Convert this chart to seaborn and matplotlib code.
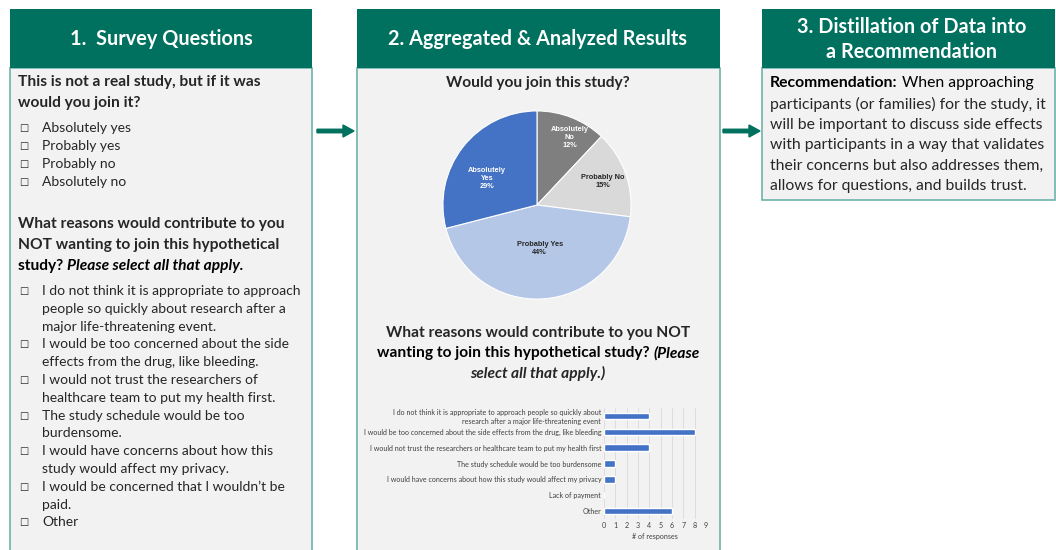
import matplotlib
matplotlib.use("Agg")
import matplotlib.pyplot as plt
import matplotlib.patches as mpatches
import seaborn as sns
import pandas as pd
import numpy as np

# data
join_labels = ["Absolutely\nNo", "Probably No", "Probably Yes", "Absolutely\nYes"]
join_pct = [12, 15, 44, 29]
join_colors = ["#7f7f7f", "#d9d9d9", "#b4c7e7", "#4472c4"]
join_text_colors = ["white", "#262626", "#262626", "white"]

reasons = [
    "I do not think it is appropriate to approach people so quickly about\nresearch after a major life-threatening event",
    "I would be too concerned about the side effects from the drug, like bleeding",
    "I would not trust the researchers or healthcare team to put my health first",
    "The study schedule would be too burdensome",
    "I would have concerns about how this study would affect my privacy",
    "Lack of payment",
    "Other",
]
reason_counts = [4, 8, 4, 1, 1, 0, 6]

q1_options = ["Absolutely yes", "Probably yes", "Probably no", "Absolutely no"]
q2_options = [
    ["I do not think it is appropriate to approach", "people so quickly about research after a", "major life-threatening event."],
    ["I would be too concerned about the side", "effects from the drug, like bleeding."],
    ["I would not trust the researchers of", "healthcare team to put my health first."],
    ["The study schedule would be too", "burdensome."],
    ["I would have concerns about how this", "study would affect my privacy."],
    ["I would be concerned that I wouldn\u2019t be", "paid."],
    ["Other"],
]
rec_lines = [
    "participants (or families) for the study, it",
    "will be important to discuss side effects",
    "with participants in a way that validates",
    "their concerns but also addresses them,",
    "allows for questions, and builds trust.",
]

W, H = 1056, 550
TEAL = "#00715f"
EDGE = "#6fb3a9"
BODY = "#f2f2f2"
FONT = ["Lato", "DejaVu Sans"]

sns.set_style("white")
plt.rcParams["font.family"] = FONT

fig = plt.figure(figsize=(W / 100, H / 100), dpi=100)
ax = fig.add_axes([0, 0, 1, 1])
ax.set_xlim(0, W)
ax.set_ylim(H, 0)
ax.axis("off")
renderer = fig.canvas.get_renderer()


def fr(x0, y0, x1, y1):
    return [x0 / W, 1 - y1 / H, (x1 - x0) / W, (y1 - y0) / H]


def panel(x0, x1, head_bottom, body_bottom):
    ax.add_patch(mpatches.Rectangle((x0, head_bottom), x1 - x0, body_bottom - head_bottom,
                                    facecolor=BODY, edgecolor=EDGE, lw=1.2, zorder=1))
    ax.add_patch(mpatches.Rectangle((x0, 9), x1 - x0, head_bottom - 9,
                                    facecolor=TEAL, edgecolor="none", zorder=2))


def pieces(x, y, parts, size, color="black", ha="left"):
    # parts: list of (text, weight, style)
    widths = []
    objs = []
    for txt, wt, st in parts:
        t = ax.text(0, y, txt, fontsize=size, fontweight=wt, fontstyle=st,
                    color=color, va="center", ha="left", zorder=5)
        widths.append(t.get_window_extent(renderer=renderer).width)
        objs.append(t)
    total = sum(widths)
    cx = x - total / 2 if ha == "center" else x
    for t, w in zip(objs, widths):
        t.set_x(cx)
        cx += w


panel(10, 312, 68, 560)
panel(357, 720, 68, 560)
panel(762, 1055, 68, 200)

# headers
fsh = 14.3
ax.text(161, 39, "1.  Survey Questions", color="white", fontsize=fsh, fontweight="bold",
        ha="center", va="center", zorder=5)
ax.text(538, 39, "2. Aggregated & Analyzed Results", color="white", fontsize=fsh, fontweight="bold",
        ha="center", va="center", zorder=5)
ax.text(912, 27, "3. Distillation of Data into", color="white", fontsize=fsh, fontweight="bold",
        ha="center", va="center", zorder=5)
ax.text(912, 52, "a Recommendation", color="white", fontsize=fsh, fontweight="bold",
        ha="center", va="center", zorder=5)

# arrows
for xa in (317, 723):
    ax.add_patch(mpatches.FancyArrow(xa, 131, 37, 0, width=3.5, head_width=12, head_length=11,
                                     length_includes_head=True, color=TEAL, zorder=5))

# panel 1
fsb = 11.2
fsr = 10.0
ax.text(18, 82, "This is not a real study, but if it was", fontsize=fsb, fontweight="bold", va="center")
ax.text(18, 103, "would you join it?", fontsize=fsb, fontweight="bold", va="center")
for i, opt in enumerate(q1_options):
    y = 128 + 18 * i
    ax.text(19, y, "\u25a1", fontsize=7, va="center", family="DejaVu Sans")
    ax.text(42, y, opt, fontsize=fsr, va="center")
ax.text(18, 224, "What reasons would contribute to you", fontsize=fsb, fontweight="bold", va="center")
ax.text(18, 245, "NOT wanting to join this hypothetical", fontsize=fsb, fontweight="bold", va="center")
pieces(18, 266, [("study? ", "bold", "normal"), ("Please select all that apply.", "bold", "italic")], fsb)
y = 291
for opt in q2_options:
    ax.text(19, y, "\u25a1", fontsize=7, va="center", family="DejaVu Sans")
    for line in opt:
        ax.text(42, y, line, fontsize=fsr, va="center")
        y += 17.8

# panel 2 texts
ax.text(538, 83, "Would you join this study?", fontsize=fsb, fontweight="bold", ha="center", va="center")
ax.text(538, 333, "What reasons would contribute to you NOT", fontsize=fsb, fontweight="bold",
        ha="center", va="center")
pieces(538, 353, [("wanting to join this hypothetical study? ", "bold", "normal"), ("(Please", "bold", "italic")],
       fsb, ha="center")
ax.text(538, 373, "select all that apply.)", fontsize=fsb, fontweight="bold", fontstyle="italic",
        ha="center", va="center")

# panel 3
fs3 = 11.3
pieces(770, 83, [("Recommendation:", "bold", "normal"), (" When approaching", "normal", "normal")], fs3)
for i, line in enumerate(rec_lines):
    ax.text(770, 104 + 20.6 * i, line, fontsize=fs3, va="center")

# pie
pax = fig.add_axes(fr(442, 110, 632, 300))
wedges, texts = pax.pie(
    join_pct,
    labels=[f"{l}\n{p}%" for l, p in zip(join_labels, join_pct)],
    colors=join_colors, startangle=90, counterclock=False,
    wedgeprops=dict(edgecolor="white", linewidth=0.8),
    labeldistance=0.6,
    textprops=dict(fontsize=5.3, fontweight="bold", family="Liberation Sans", ha="center", va="center"),
)
# label placement inside wedges (radius, angle shift)
for w, t, r, dth, c in zip(wedges, texts, [0.8, 0.74, 0.46, 0.6], [-4, 0, 0, 10], join_text_colors):
    th = np.deg2rad((w.theta1 + w.theta2) / 2 + dth)
    t.set_position((r * np.cos(th), r * np.sin(th)))
    t.set_ha("center")
    t.set_color(c)
pax.set_xlim(-1.01, 1.01)
pax.set_ylim(-1.01, 1.01)
pax.set_aspect("equal")

# bar chart
bax = fig.add_axes(fr(604, 408, 706, 519))
df = pd.DataFrame({"reason": reasons, "count": reason_counts})
sns.barplot(data=df, x="count", y="reason", orient="h", color="#4472c4", width=0.4,
            saturation=1, ax=bax, zorder=3)
bax.set_xlim(0, 9)
bax.set_xticks(range(10))
bax.set_facecolor(BODY)
bax.grid(axis="x", color="#d9d9d9", lw=0.6, zorder=0)
bax.set_axisbelow(True)
for s in bax.spines.values():
    s.set_visible(False)
bax.tick_params(axis="both", length=0, labelsize=5.15, labelcolor="#404040", pad=2)
bax.set_ylabel("")
bax.set_xlabel("# of responses", fontsize=5.15, color="#404040", labelpad=3)

fig.savefig("out.png", dpi=100)
